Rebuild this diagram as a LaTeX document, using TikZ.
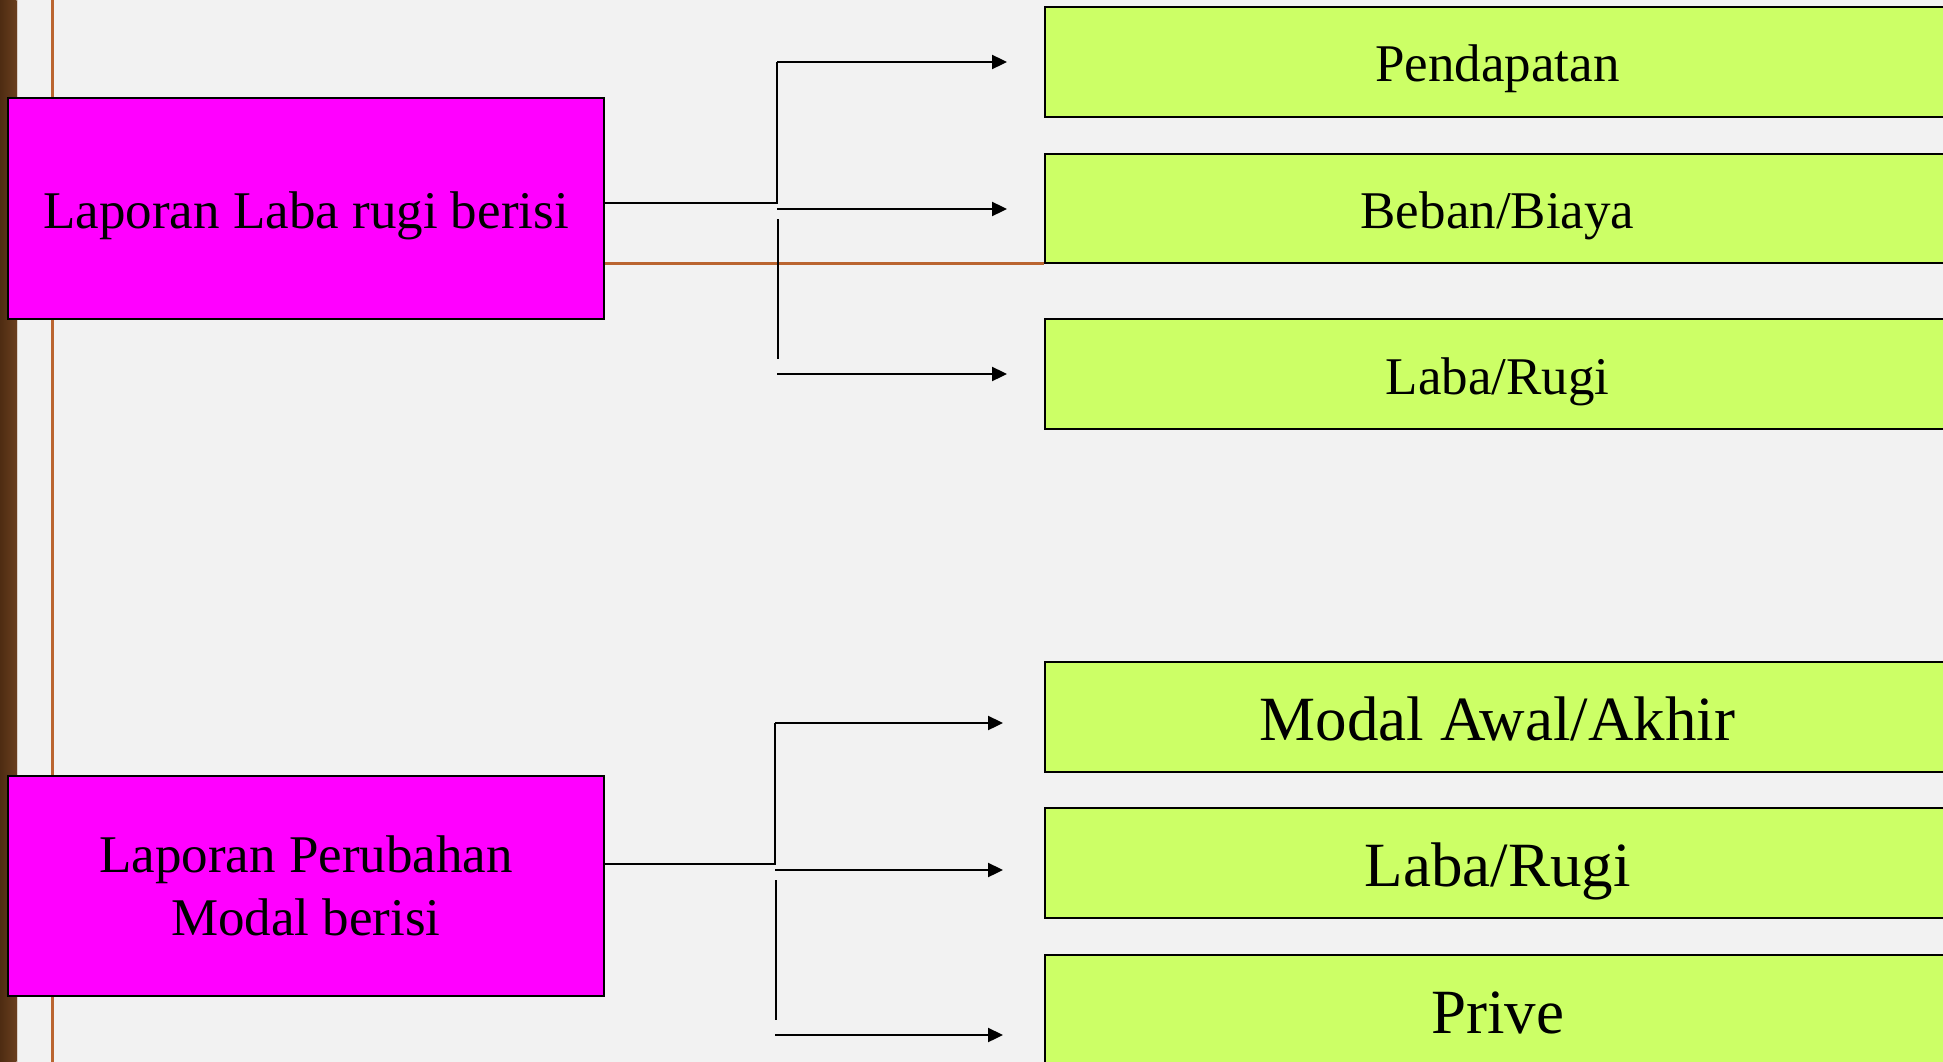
\documentclass[tikz,border=0pt]{standalone}
\usepackage{fontspec}
\setmainfont{Liberation Serif}
\usetikzlibrary{arrows.meta}
\definecolor{bg}{HTML}{F2F2F2}
\definecolor{wood}{HTML}{6A3F1E}
\definecolor{wooddark}{HTML}{4E2C12}
\definecolor{rust}{HTML}{BA6530}
\definecolor{pinkbox}{HTML}{FF00FF}
\definecolor{limebox}{HTML}{CCFF66}
\begin{document}
\begin{tikzpicture}[x=1pt,y=-1pt,
  pinkstyle/.style={draw=black,line width=1.6pt,fill=pinkbox,minimum width=596pt,minimum height=221pt,inner sep=0pt,font=\fontsize{53}{63.6}\selectfont,align=center},
  limesmall/.style={draw=black,line width=1.6pt,fill=limebox,minimum width=905pt,minimum height=110pt,inner sep=0pt,font=\fontsize{53}{63.6}\selectfont,text height=40pt,text depth=0pt},
  limebig/.style={limesmall,font=\fontsize{63}{75}\selectfont,text height=47pt},
  stem/.style={draw=black,line width=1.7pt},
  arr/.style={draw=black,line width=2.3pt,-{Triangle[length=15pt,width=14pt]}},
  rustline/.style={draw=rust,line width=3pt}]
\useasboundingbox (0,0) rectangle (1943,1062);
\clip (0,0) rectangle (1943,1062);
% background
\fill[bg] (0,0) rectangle (1943,1062);
\shade[left color=wooddark,right color=wood] (0,0) rectangle (16.5,1062);
\fill[white!75!wood] (16.5,0) rectangle (18,1062);
\draw[rustline] (52.5,0) -- (52.5,1062);
% green boxes
\node[limesmall] (g1) at (1497.5,62) {Pendapatan};
\node[limesmall,minimum height=109pt] (g2) at (1497.5,208.5) {Beban/Biaya};
\node[limesmall] (g3) at (1497.5,374) {Laba/Rugi};
\node[limebig] (g4) at (1497.5,717) {Modal Awal/Akhir};
\node[limebig] (g5) at (1497.5,863) {Laba/Rugi};
\node[limebig] (g6) at (1497.5,1010) {Prive};
% pink boxes
\node[pinkstyle,text height=40pt,text depth=0pt] (p1) at (306,208.5) {Laporan Laba rugi berisi};
\node[pinkstyle,minimum height=220pt] (p2) at (306,886) {Laporan Perubahan\\Modal berisi};
% rust horizontal line
\draw[rustline] (p1.east |- g2.south west) -- (g2.south west);
% top connectors
\coordinate (j1) at (777,203);
\coordinate (a1) at (777,62);
\coordinate (a2) at (777,209);
\coordinate (a3) at (777,374);
\coordinate (e1) at (1007,62);
\coordinate (e2) at (1007,209);
\coordinate (e3) at (1007,374);
\coordinate (v1a) at (778,219);
\coordinate (v1b) at (778,359);
\draw[stem] (p1.east |- j1) -- (j1) -- (a1);
\draw[arr] (a1) -- (e1);
\draw[arr] (a2) -- (e2);
\draw[stem] (v1a) -- (v1b);
\draw[arr] (a3) -- (e3);
% bottom connectors
\coordinate (j2) at (775,864);
\coordinate (a4) at (775,723);
\coordinate (a5) at (775,870);
\coordinate (a6) at (775,1035);
\coordinate (e4) at (1003,723);
\coordinate (e5) at (1003,870);
\coordinate (e6) at (1003,1035);
\coordinate (v2a) at (776,880);
\coordinate (v2b) at (776,1020);
\draw[stem] (p2.east |- j2) -- (j2) -- (a4);
\draw[arr] (a4) -- (e4);
\draw[arr] (a5) -- (e5);
\draw[stem] (v2a) -- (v2b);
\draw[arr] (a6) -- (e6);
\end{tikzpicture}
\end{document}
